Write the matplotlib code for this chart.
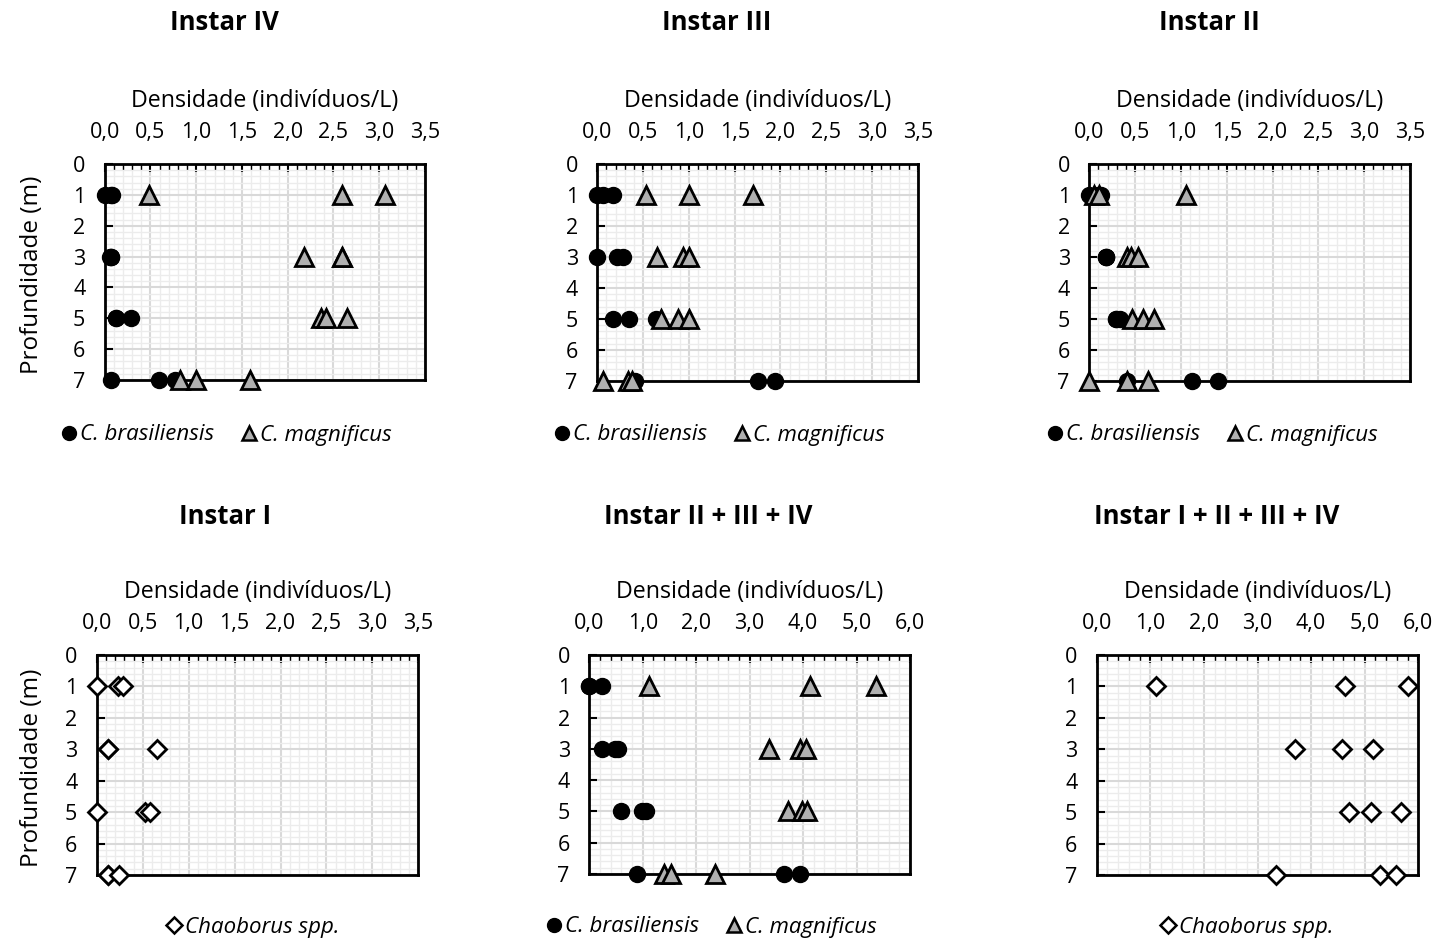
import matplotlib
matplotlib.use("Agg")
import matplotlib.pyplot as plt
from matplotlib.ticker import MultipleLocator, FuncFormatter
from matplotlib.lines import Line2D

plt.rcParams['font.family'] = ['Open Sans', 'DejaVu Sans']

W, H = 1438, 943

# ---------------- data ----------------
# Instar IV
iv_bras_depth = [1, 1, 1, 3, 3, 3, 5, 5, 5, 7, 7, 7]
iv_bras_dens = [0.0, 0.07, 0.08, 0.06, 0.065, 0.07, 0.12, 0.12, 0.29, 0.065, 0.59, 0.77]
iv_mag_depth = [1, 1, 1, 3, 3, 3, 5, 5, 5, 7, 7, 7]
iv_mag_dens = [0.48, 2.59, 3.06, 2.18, 2.59, 2.59, 2.36, 2.42, 2.65, 0.82, 1.0, 1.59]

# Instar III
iii_bras_depth = [1, 1, 1, 3, 3, 3, 5, 5, 5, 7, 7, 7]
iii_bras_dens = [0.0, 0.065, 0.17, 0.0, 0.22, 0.28, 0.17, 0.35, 0.64, 0.41, 1.76, 1.94]
iii_mag_depth = [1, 1, 1, 3, 3, 3, 5, 5, 5, 7, 7, 7]
iii_mag_dens = [0.53, 1.0, 1.70, 0.65, 0.94, 1.0, 0.70, 0.88, 1.0, 0.06, 0.34, 0.38]

# Instar II
ii_bras_depth = [1, 1, 1, 3, 3, 3, 5, 5, 5, 7, 7, 7]
ii_bras_dens = [0.0, 0.10, 0.13, 0.18, 0.18, 0.18, 0.29, 0.29, 0.34, 0.41, 1.12, 1.41]
ii_mag_depth = [1, 1, 1, 3, 3, 3, 5, 5, 5, 7, 7, 7]
ii_mag_dens = [0.05, 0.11, 1.05, 0.41, 0.46, 0.53, 0.47, 0.59, 0.71, 0.0, 0.41, 0.64]

# Instar I
i_chao_depth = [1, 1, 1, 3, 3, 3, 5, 5, 5, 7, 7, 7]
i_chao_dens = [0.0, 0.23, 0.29, 0.12, 0.12, 0.65, 0.0, 0.53, 0.58, 0.12, 0.12, 0.24]

# Instar II + III + IV
sum3_bras_depth = [1, 1, 1, 3, 3, 3, 5, 5, 5, 7, 7, 7]
sum3_bras_dens = [0.0, 0.0, 0.23, 0.23, 0.48, 0.54, 0.59, 0.98, 1.06, 0.89, 3.65, 3.95]
sum3_mag_depth = [1, 1, 1, 3, 3, 3, 5, 5, 5, 7, 7, 7]
sum3_mag_dens = [1.12, 4.12, 5.36, 3.36, 3.95, 4.06, 3.71, 3.98, 4.08, 1.40, 1.53, 2.36]

# Instar I + II + III + IV
sum4_chao_depth = [1, 1, 1, 3, 3, 3, 5, 5, 5, 7, 7, 7]
sum4_chao_dens = [1.11, 4.63, 5.81, 3.70, 4.58, 5.16, 4.71, 5.11, 5.67, 3.35, 5.28, 5.58]

titles = ["Instar IV", "Instar III", "Instar II",
          "Instar I", "Instar II + III + IV", "Instar I + II + III + IV"]
xlabel = "Densidade (indivíduos/L)"
ylabel = "Profundidade (m)"
lab_bras = "C. brasiliensis"
lab_mag = "C. magnificus"
lab_chao = "Chaoborus spp."

# ---------------- styles ----------------
FS_TICK = 15.5
FS_XLAB = 16.75
FS_YLAB = 17.5
FS_LEG = 16
GRAY = '#b0b0b0'
BRAS = dict(marker='o', color='black', markerfacecolor='black', markeredgecolor='black',
            markersize=11.5, linestyle='none', clip_on=False, zorder=5)
MAG = dict(marker='^', color='black', markerfacecolor=GRAY, markeredgecolor='black',
           markeredgewidth=2, markersize=12.5, linestyle='none', clip_on=False, zorder=6)
CHAO = dict(marker='D', color='black', markerfacecolor='white', markeredgecolor='black',
            markeredgewidth=2, markersize=9, linestyle='none', clip_on=False, zorder=6)

fig = plt.figure(figsize=(W / 100, H / 100), dpi=100)


def px_axes(l, t, r, b):
    return fig.add_axes([l / W, 1 - b / H, (r - l) / W, (b - t) / H])


def fmt_comma(v, pos):
    return f"{v:.1f}".replace('.', ',')


def setup(ax, xmax, major, minor):
    ax.set_xlim(0, xmax)
    ax.set_ylim(7, 0)
    ax.xaxis.set_major_locator(MultipleLocator(major))
    ax.xaxis.set_minor_locator(MultipleLocator(minor))
    ax.yaxis.set_major_locator(MultipleLocator(1))
    ax.yaxis.set_minor_locator(MultipleLocator(0.2))
    ax.xaxis.set_major_formatter(FuncFormatter(fmt_comma))
    ax.xaxis.tick_top()
    ax.xaxis.set_label_position('top')
    ax.tick_params(axis='x', which='major', direction='in', length=6, width=1.5,
                   pad=15, labelsize=FS_TICK, top=True, bottom=False)
    ax.tick_params(axis='x', which='minor', direction='in', length=4, width=1,
                   top=True, bottom=False)
    ax.tick_params(axis='y', which='major', direction='in', length=6, width=1.5,
                   pad=14, labelsize=FS_TICK)
    ax.tick_params(axis='y', which='minor', left=False)
    ax.grid(True, which='major', color='#d9d9d9', linewidth=1.5, zorder=0)
    ax.grid(True, which='minor', color='#ececec', linewidth=1.0, zorder=0)
    ax.set_axisbelow(True)
    for s in ax.spines.values():
        s.set_linewidth(2)
        s.set_color('black')
    ax.set_xlabel(xlabel, fontsize=FS_XLAB, labelpad=11)


def legend(ax, handles, labels, cx, cy):
    ax.legend(handles, labels, loc='center', bbox_to_anchor=(cx / W, 1 - cy / H),
              bbox_transform=fig.transFigure, ncol=len(handles), frameon=False,
              handlelength=0.6, handletextpad=0.2, columnspacing=1.3,
              prop=dict(size=FS_LEG, style='italic'))


h_bras = Line2D([], [], marker='o', color='black', linestyle='none', markersize=10)
h_mag = Line2D([], [], marker='^', markerfacecolor=GRAY, markeredgecolor='black',
               markeredgewidth=1.8, linestyle='none', markersize=10)
h_chao = Line2D([], [], marker='D', markerfacecolor='white', markeredgecolor='black',
                markeredgewidth=1.8, linestyle='none', markersize=8)

# Top row
ax1 = px_axes(104.7, 164, 425, 380)
setup(ax1, 3.5, 0.5, 0.1)
ax1.plot(iv_bras_dens, iv_bras_depth, **BRAS)
ax1.plot(iv_mag_dens, iv_mag_depth, **MAG)
legend(ax1, [h_bras, h_mag], [lab_bras, lab_mag], 227, 435)

ax2 = px_axes(597.3, 164, 917.7, 381)
setup(ax2, 3.5, 0.5, 0.1)
ax2.plot(iii_bras_dens, iii_bras_depth, **BRAS)
ax2.plot(iii_mag_dens, iii_mag_depth, **MAG)
legend(ax2, [h_bras, h_mag], [lab_bras, lab_mag], 720, 435)

ax3 = px_axes(1089.3, 164, 1410, 381)
setup(ax3, 3.5, 0.5, 0.1)
ax3.plot(ii_bras_dens, ii_bras_depth, **BRAS)
ax3.plot(ii_mag_dens, ii_mag_depth, **MAG)
legend(ax3, [h_bras, h_mag], [lab_bras, lab_mag], 1213, 435)

# Bottom row
ax4 = px_axes(96.8, 655, 418.3, 875)
setup(ax4, 3.5, 0.5, 0.1)
ax4.plot(i_chao_dens, i_chao_depth, **CHAO)
legend(ax4, [h_chao], [lab_chao], 253, 927)

ax5 = px_axes(589.3, 655, 910, 874)
setup(ax5, 6.0, 1.0, 0.2)
ax5.plot(sum3_bras_dens, sum3_bras_depth, **BRAS)
ax5.plot(sum3_mag_dens, sum3_mag_depth, **MAG)
legend(ax5, [h_bras, h_mag], [lab_bras, lab_mag], 712, 927)

ax6 = px_axes(1096.7, 655, 1418.3, 875)
setup(ax6, 6.0, 1.0, 0.2)
ax6.plot(sum4_chao_dens, sum4_chao_depth, **CHAO)
legend(ax6, [h_chao], [lab_chao], 1247, 927)

# Titles
title_pos = [(224, 22), (717, 22), (1209, 22), (225, 516), (708, 516), (1217, 516)]
for t, (x, y) in zip(titles, title_pos):
    fig.text(x / W, 1 - y / H, t, ha='center', va='center', fontsize=18.5, fontweight='bold')

# Y labels
for y in (275, 768):
    fig.text(32 / W, 1 - y / H, ylabel, ha='center', va='center', rotation=90, fontsize=FS_YLAB)

fig.savefig("out.png", dpi=100)
